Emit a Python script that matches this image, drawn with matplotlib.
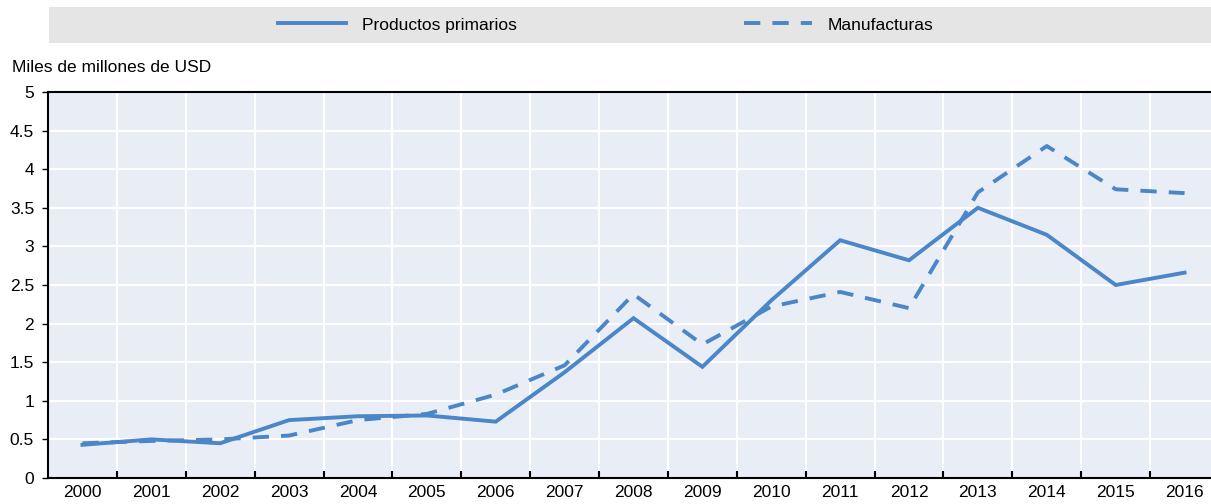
import numpy as np
import matplotlib.pyplot as plt
from matplotlib.ticker import FixedLocator

plt.rcParams['font.family'] = ['Liberation Sans Narrow', 'Liberation Sans', 'DejaVu Sans']

years = [str(y) for y in range(2000, 2017)]
primarios = [0.43, 0.50, 0.45, 0.75, 0.80, 0.81, 0.73, 1.37, 2.07, 1.44, 2.30,
             3.08, 2.82, 3.50, 3.15, 2.50, 2.66]
manufacturas = [0.45, 0.48, 0.50, 0.55, 0.75, 0.83, 1.08, 1.46, 2.38, 1.73, 2.22,
                2.41, 2.20, 3.70, 4.30, 3.74, 3.69]
yticks = [0, 0.5, 1, 1.5, 2, 2.5, 3, 3.5, 4, 4.5, 5]
ylabels = ['0', '0.5', '1', '1.5', '2', '2.5', '3', '3.5', '4', '4.5', '5']

color = '#4a86c8'
W, H = 1211, 504
fig = plt.figure(figsize=(W / 100, H / 100), dpi=100, facecolor='white')

# ejes principales (el borde derecho queda recortado como en el original)
ax = fig.add_axes([48 / W, 1 - 478 / H, 1171 / W, 386 / H], facecolor='#e9edf6')
x = np.arange(len(years))
ax.plot(x, primarios, color=color, lw=2.8, solid_joinstyle='miter', label='Productos primarios')
ax.plot(x, manufacturas, color=color, lw=2.8, dashes=(4.2, 3.1), label='Manufacturas')

ax.set_xlim(-0.5, len(years) - 0.5)
ax.set_ylim(0, 5)
ax.set_xticks(x)
ax.set_xticklabels(years)
ax.xaxis.set_minor_locator(FixedLocator(np.arange(0.5, len(years) - 1, 1.0)))
ax.set_yticks(yticks)
ax.set_yticklabels(ylabels)

ax.grid(False)
for b in np.arange(0.5, len(years) - 1, 1.0):
    ax.axvline(b, color='white', lw=1.6, zorder=0.5)
for v in yticks[1:-1]:
    ax.axhline(v, color='white', lw=1.6, zorder=0.5)

ax.tick_params(axis='x', which='major', length=0, pad=5, labelsize=12.5)
ax.tick_params(axis='x', which='minor', direction='in', length=5, width=1.5, color='black')
ax.tick_params(axis='y', which='major', direction='out', length=4, width=1, pad=6, labelsize=12.5)

for s in ['left', 'bottom', 'top']:
    ax.spines[s].set_color('black')
    ax.spines[s].set_linewidth(1.5)
ax.spines['right'].set_visible(False)

fig.text(12 / W, 1 - 68 / H, 'Miles de millones de USD', fontsize=12.5, va='center', ha='left')

# barra de leyenda
lax = fig.add_axes([49 / W, 1 - 43 / H, (W - 49) / W, 36 / H], facecolor='#e5e5e5')
lax.set_xticks([])
lax.set_yticks([])
for s in lax.spines.values():
    s.set_visible(False)
h, l = ax.get_legend_handles_labels()
lax.legend(h, l, loc='center', bbox_to_anchor=(0.479, 0.5), ncol=2, frameon=False,
           handlelength=3.9, handletextpad=0.9, columnspacing=13.1, fontsize=12.5)

fig.savefig('out.png', dpi=100, facecolor='white')
